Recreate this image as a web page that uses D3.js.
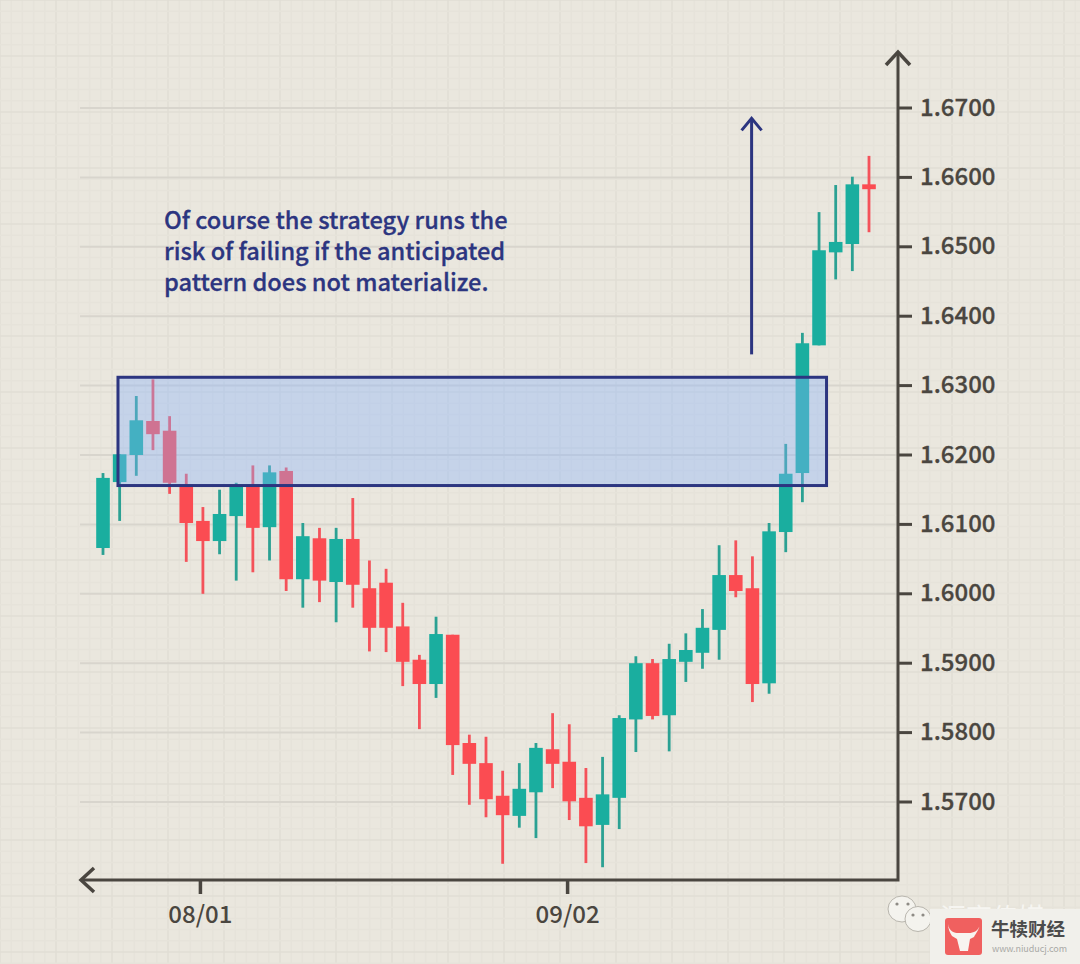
<!DOCTYPE html>
<html>
<head>
<meta charset="utf-8">
<script src="https://cdn.jsdelivr.net/npm/d3@7/dist/d3.min.js"></script>
<style>
html,body{margin:0;padding:0;background:#EAE7DE;overflow:hidden}
svg{display:block}
</style>
</head>
<body>
<svg id="chart" width="1080" height="964"></svg>
<script>
// Candle values
const opens  = [1.6066,1.6161,1.6200,1.6249,1.6235,1.6157,1.6105,1.6076,1.6112,1.6157,1.6096,1.6177,1.6021,1.6080,1.6017,1.6079,1.6008,1.6016,1.5953,1.5905,1.5870,1.5941,1.5785,1.5756,1.5709,1.5680,1.5714,1.5776,1.5758,1.5706,1.5667,1.5706,1.5819,1.5900,1.5825,1.5902,1.5915,1.5948,1.6027,1.6008,1.5871,1.6089,1.6174,1.6358,1.6492,1.6504,1.6590];
const closes = [1.6167,1.6201,1.6250,1.6230,1.6160,1.6102,1.6076,1.6115,1.6157,1.6095,1.6175,1.6021,1.6083,1.6019,1.6079,1.6013,1.5951,1.5951,1.5902,1.5870,1.5942,1.5782,1.5755,1.5704,1.5681,1.5719,1.5778,1.5755,1.5701,1.5665,1.5711,1.5821,1.5900,1.5824,1.5906,1.5919,1.5951,1.6027,1.6004,1.5870,1.6090,1.6173,1.6361,1.6495,1.6507,1.6590,1.6583];
const highs  = [1.6174,1.6201,1.6285,1.6309,1.6256,1.6173,1.6125,1.6150,1.6160,1.6185,1.6185,1.6182,1.6102,1.6095,1.6095,1.6138,1.6048,1.6036,1.5987,1.5912,1.5967,1.5941,1.5797,1.5794,1.5745,1.5756,1.5785,1.5828,1.5812,1.5749,1.5765,1.5825,1.5910,1.5906,1.5928,1.5943,1.5978,1.6070,1.6077,1.6054,1.6102,1.6216,1.6376,1.6550,1.6589,1.6601,1.6631];
const lows   = [1.6056,1.6105,1.6170,1.6207,1.6144,1.6046,1.6000,1.6057,1.6019,1.6031,1.6048,1.6004,1.5980,1.5988,1.5959,1.5980,1.5917,1.5916,1.5867,1.5805,1.5850,1.5739,1.5696,1.5678,1.5611,1.5663,1.5648,1.5720,1.5674,1.5612,1.5606,1.5661,1.5772,1.5819,1.5773,1.5873,1.5892,1.5905,1.5995,1.5844,1.5856,1.6060,1.6132,1.6358,1.6453,1.6465,1.6521];
const priceTicks = [1.67,1.66,1.65,1.64,1.63,1.62,1.61,1.60,1.59,1.58,1.57];
const dateTicks = [5.85,27.9];
const dateLabels = ["08/01","09/02"];
const zoneBounds = [1.6156,1.6312];
const zoneRange = [0.9,43.45];
const targetArrow = {x:38.95, from:1.6345, to:1.6685};
const noteLines = ["Of course the strategy runs the","risk of failing if the anticipated","pattern does not materialize."];

const UP="#1AAE9F", DOWN="#FB4C52", NAVY="#2C3580", AXIS="#4A4640";
const FONT="'Noto Sans CJK SC','Noto Sans',sans-serif";

const svg=d3.select("#chart");
const x=d3.scaleLinear().domain([0,46]).range([103,869]);
const y=d3.scaleLinear().domain([1.57,1.67]).range([802,108]);
const axisX=898, axisY=880;

// Paper texture
const paper=svg.append("g");
paper.append("rect").attr("width",1080).attr("height",964).attr("fill","#EAE7DE");
d3.range(0,1080,11.2).forEach((p,i)=>paper.append("line").attr("x1",p).attr("x2",p).attr("y1",0).attr("y2",964)
  .attr("stroke",i%5===0?"#E1DED4":"#E6E3DA").attr("stroke-width",1.5));
d3.range(0,964,11.2).forEach((p,i)=>paper.append("line").attr("y1",p).attr("y2",p).attr("x1",0).attr("x2",1080)
  .attr("stroke",i%5===0?"#E1DED4":"#E6E3DA").attr("stroke-width",1.5));

// Horizontal gridlines
svg.append("g").selectAll("line").data(priceTicks).join("line")
  .attr("x1",80).attr("x2",axisX).attr("y1",d=>y(d)).attr("y2",d=>y(d))
  .attr("stroke","#D8D5CD").attr("stroke-width",2);

// Candles
const idx=d3.range(opens.length);
const candles=svg.append("g");
candles.selectAll("line").data(idx).join("line")
  .attr("x1",i=>x(i)).attr("x2",i=>x(i))
  .attr("y1",i=>y(highs[i])).attr("y2",i=>y(lows[i]))
  .attr("stroke",i=>closes[i]>=opens[i]?"#2BA193":"#F4525A").attr("stroke-width",2.8);
candles.selectAll("rect").data(idx).join("rect")
  .attr("x",i=>x(i)-6.8).attr("width",13.6)
  .attr("y",i=>y(Math.max(opens[i],closes[i])))
  .attr("height",i=>Math.max(1,Math.abs(y(opens[i])-y(closes[i]))))
  .attr("fill",i=>closes[i]>=opens[i]?UP:DOWN);

// Highlight zone
svg.append("rect")
  .attr("x",x(zoneRange[0])).attr("width",x(zoneRange[1])-x(zoneRange[0]))
  .attr("y",y(zoneBounds[1])).attr("height",y(zoneBounds[0])-y(zoneBounds[1]))
  .attr("fill","rgb(137,178,253)").attr("fill-opacity",0.38)
  .attr("stroke",NAVY).attr("stroke-width",3);

// Target arrow
const ax=x(targetArrow.x), ay=y(targetArrow.to);
svg.append("line").attr("x1",ax).attr("x2",ax).attr("y1",y(targetArrow.from)).attr("y2",ay)
  .attr("stroke",NAVY).attr("stroke-width",3);
svg.append("path").attr("d",`M${ax-10},${ay+12}L${ax},${ay}L${ax+10},${ay+12}`)
  .attr("fill","none").attr("stroke",NAVY).attr("stroke-width",3);

// Note
svg.append("g").selectAll("text").data(noteLines).join("text")
  .attr("x",164).attr("y",(d,i)=>229+i*31)
  .attr("font-family",FONT).attr("font-weight",500).attr("font-size",23.6)
  .attr("fill",NAVY).attr("stroke",NAVY).attr("stroke-width",0.3).text(d=>d);

// Axes
const ax_g=svg.append("g").attr("stroke",AXIS).attr("fill","none").attr("stroke-width",3);
ax_g.append("path").attr("d",`M${axisX},54V${axisY}H82`);
ax_g.append("path").attr("d",`M${axisX-12},65L${axisX},52L${axisX+12},65`).attr("stroke-width",3.5);
ax_g.append("path").attr("d",`M94,868L81,${axisY}L94,892`).attr("stroke-width",3.5);
ax_g.selectAll(".py").data(priceTicks).join("line").attr("class","py")
  .attr("x1",axisX).attr("x2",axisX+14).attr("y1",d=>y(d)).attr("y2",d=>y(d));
ax_g.selectAll(".dx").data(dateTicks).join("line").attr("class","dx")
  .attr("x1",d=>x(d)).attr("x2",d=>x(d)).attr("y1",axisY).attr("y2",axisY+14).attr("stroke-width",3.5);

svg.append("g").selectAll("text").data(priceTicks).join("text")
  .attr("x",920).attr("y",d=>y(d)+7.5)
  .attr("font-family",FONT).attr("font-weight",500).attr("font-size",24)
  .attr("fill",AXIS).attr("stroke",AXIS).attr("stroke-width",0.3).text(d=>d.toFixed(4));
svg.append("g").selectAll("text").data(dateTicks).join("text")
  .attr("x",d=>x(d)).attr("y",923).attr("text-anchor","middle")
  .attr("font-family",FONT).attr("font-weight",500).attr("font-size",24)
  .attr("fill",AXIS).text((d,i)=>dateLabels[i]);

// Watermarks
const wm=svg.append("g");
[[902,909,14,13],[918,919,13,12.5]].forEach(([cx,cy,rx,ry])=>{
  wm.append("ellipse").attr("cx",cx).attr("cy",cy).attr("rx",rx).attr("ry",ry)
    .attr("fill","#F4F3EE").attr("stroke","#B9B6AE").attr("stroke-width",1);
});
[[897,904],[908,904],[913,915],[923,915]].forEach(([cx,cy])=>
  wm.append("circle").attr("cx",cx).attr("cy",cy).attr("r",1.6).attr("fill","#8E8B85"));
wm.append("text").attr("x",940).attr("y",927).attr("font-family",FONT).attr("font-size",26)
  .attr("fill","#F6F5F1").text("汇商传媒");
wm.append("rect").attr("x",930).attr("y",909).attr("width",150).attr("height",55).attr("fill","#F1F0EB");
wm.append("rect").attr("x",945).attr("y",918).attr("width",37).attr("height",37).attr("rx",3).attr("fill","#F0605F");
wm.append("path").attr("d","M948,924C949,932 955,933 958,933L969,933C973,933 979,931 980,924C979,930 976,933 974,937L970,939L968,951L960,951L957,939L952,936C950,933 948,929 948,924Z").attr("fill","#F8F4F0");
wm.append("text").attr("x",991).attr("y",936).attr("font-family",FONT).attr("font-weight",700).attr("font-size",18.5)
  .attr("fill","#4C4C4C").text("牛犊财经");
wm.append("text").attr("x",992).attr("y",952).attr("font-family",FONT).attr("font-size",9)
  .attr("textLength",75).attr("fill","#A9A9A6").text("www.niuducj.com");
</script>
</body>
</html>
